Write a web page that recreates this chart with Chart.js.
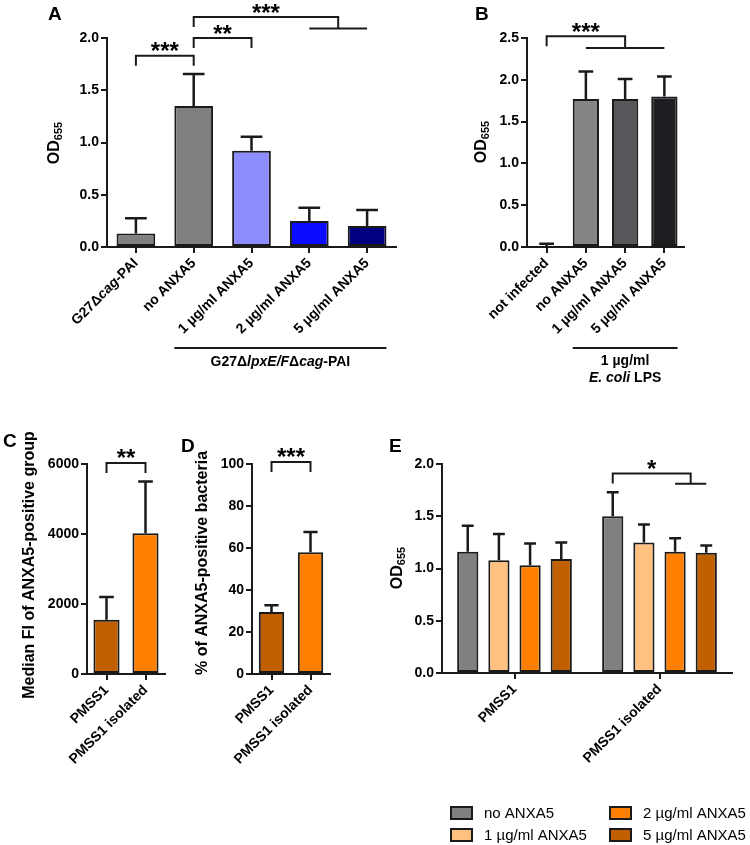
<!DOCTYPE html>
<html>
<head>
<meta charset="utf-8">
<script src="https://cdn.jsdelivr.net/npm/chart.js@4.4.1/dist/chart.umd.min.js"></script>
<style>
body { margin: 0; background: #fff; }
#fig { position: relative; width: 750px; height: 845px; }
#fig canvas { position: absolute; left: 0; top: 0; }
</style>
</head>
<body>
<div id="fig">
  <canvas id="chartA" width="750" height="845"></canvas>
  <canvas id="chartB" width="750" height="845"></canvas>
  <canvas id="chartC" width="750" height="845"></canvas>
  <canvas id="chartD" width="750" height="845"></canvas>
  <canvas id="chartE" width="750" height="845"></canvas>
</div>
<script>
// ---- panel A
const labelsA = ['G27Δcag-PAI', 'no ANXA5', '1 µg/ml ANXA5', '2 µg/ml ANXA5', '5 µg/ml ANXA5']
const valuesA = [0.13, 1.35, 0.92, 0.25, 0.20]
const errorsA = [0.145, 0.305, 0.135, 0.125, 0.155]
const ticksA = [0, 0.5, 1.0, 1.5, 2.0]

// ---- panel B
const labelsB = ['not infected', 'no ANXA5', '1 µg/ml ANXA5', '5 µg/ml ANXA5']
const valuesB = [0.01, 1.77, 1.77, 1.80]
const errorsB = [0.03, 0.33, 0.24, 0.24]
const ticksB = [0, 0.5, 1.0, 1.5, 2.0, 2.5]

// ---- panel C
const labelsC = ['PMSS1', 'PMSS1 isolated']
const valuesC = [1550, 4020]
const errorsC = [650, 1480]
const ticksC = [0, 2000, 4000, 6000]

// ---- panel D
const labelsD = ['PMSS1', 'PMSS1 isolated']
const valuesD = [29.5, 58]
const errorsD = [3.2, 9.6]
const ticksD = [0, 20, 40, 60, 80, 100]

// ---- panel E
const labelsE = ['PMSS1', 'PMSS1 isolated']
const seriesE = ['no ANXA5', '1 µg/ml ANXA5', '2 µg/ml ANXA5', '5 µg/ml ANXA5']
const noAnxaE = [1.16, 1.50]
const noAnxaErrE = [0.25, 0.23]
const anxa1E = [1.08, 1.25]
const anxa1ErrE = [0.25, 0.17]
const anxa2E = [1.03, 1.16]
const anxa2ErrE = [0.21, 0.13]
const anxa5E = [1.09, 1.15]
const anxa5ErrE = [0.16, 0.07]
const ticksE = [0, 0.5, 1.0, 1.5, 2.0]

// colours
const colorsA = ['#808080', '#808080', '#8c8cff', '#0a0aff', '#000080']
const colorsB = ['#ffffff', '#858585', '#58585c', '#1e1e22']
const colorsC = ['#c05f00', '#ff8000']
const colorsE = ['#808080', '#ffc080', '#ff8000', '#c05f00']

const FONT = '"Liberation Sans", Arial, Helvetica, sans-serif'
const INK = '#1a1a1a'

// extra drawing for each panel (letters, titles, brackets, group labels)
const specs = {
    chartA: {
        letter: ['A', 48, 20],
        yTitle: { parts: [['OD', 16], ['655', 11]], x: 55, y: 143 },
        // tick label with italic part, drawn in place of the plain one
        richTick: { index: 0, pieces: [['G27Δ'], ['cag', 1], ['-PAI']] },
        brackets: [
            { from: [0, 0], to: [0, 1], y: 1.83, stars: '***' },
            { from: [0, 1], to: [0, 2], y: 2.0, stars: '**' },
            { from: [0, 1], fork: [[0, 3], [0, 4]], y: 2.2, low: 2.09, stars: '***' }
        ],
        group: {
            from: [0, 1], to: [0, 4], y: 348,
            lines: [[['G27Δ'], ['lpxE/F', 1], ['Δ'], ['cag', 1], ['-PAI']]], textY: 362
        }
    },
    chartB: {
        letter: ['B', 475, 20],
        yTitle: { parts: [['OD', 16], ['655', 11]], x: 482, y: 142 },
        brackets: [
            { from: [0, 0], fork: [[0, 1], [0, 3]], y: 2.52, low: 2.38, stars: '***' }
        ],
        group: {
            from: [0, 1], to: [0, 3], y: 348,
            lines: [[['1 µg/ml']], [['E. coli', 1], [' LPS']]], textY: 361
        }
    },
    chartC: {
        letter: ['C', 3, 447],
        yTitle: { parts: [['Median FI of ANXA5-positive group', 16]], x: 30, y: 565 },
        brackets: [{ from: [0, 0], to: [0, 1], y: 6030, stars: '**' }]
    },
    chartD: {
        letter: ['D', 181, 452],
        yTitle: { parts: [['% of ANXA5-positive bacteria', 16]], x: 203, y: 563 },
        brackets: [{ from: [0, 0], to: [0, 1], y: 101, stars: '***' }]
    },
    chartE: {
        letter: ['E', 389, 452],
        yTitle: { parts: [['OD', 16], ['655', 11]], x: 398, y: 568 },
        brackets: [
            { from: [0, 1], fork: [[2, 1], [3, 1]], y: 1.91, low: 1.81, stars: '*' }
        ],
        legend: { cols: [451, 610], rows: [807, 829] }
    }
}

const barX = (chart, p) => chart.getDatasetMeta(p[0]).data[p[1]].x
const barW = (chart, p) => chart.getDatasetMeta(p[0]).data[p[1]].width

const pieceFont = (p, size) => (p[1] ? 'italic ' : '') + 'bold ' + size + 'px ' + FONT

// draw a row of text pieces [text, italic?]; align 'center' or 'right' on x
const drawPieces = (ctx, pieces, x, y, size, align) => {
    const widths = pieces.map(p => { ctx.font = pieceFont(p, size); return ctx.measureText(p[0]).width })
    const total = widths.reduce((a, b) => a + b, 0)
    let cx = align === 'right' ? x - total : x - total / 2
    ctx.textAlign = 'left'
    pieces.forEach((p, i) => {
        ctx.font = pieceFont(p, size)
        ctx.fillText(p[0], cx, y)
        cx += widths[i]
    })
}

const figPlugin = {
    id: 'fig',
    afterDatasetsDraw(chart) {
        const ctx = chart.ctx
        const ys = chart.scales.y
        ctx.save()
        ctx.strokeStyle = INK
        ctx.lineWidth = 2.5
        chart.data.datasets.forEach((ds, d) => {
            chart.getDatasetMeta(d).data.forEach((bar, i) => {
                const top = ys.getPixelForValue(ds.data[i] + ds.errors[i])
                const cap = bar.width * 0.28
                ctx.beginPath()
                ctx.moveTo(bar.x, bar.y)
                ctx.lineTo(bar.x, top)
                ctx.moveTo(bar.x - cap, top)
                ctx.lineTo(bar.x + cap, top)
                ctx.stroke()
            })
        })
        ctx.restore()
    },
    afterDraw(chart) {
        const spec = specs[chart.canvas.id]
        const ctx = chart.ctx
        const ys = chart.scales.y
        ctx.save()
        ctx.fillStyle = '#000'
        ctx.strokeStyle = INK

        // panel letter
        ctx.font = 'bold 19px ' + FONT
        ctx.textAlign = 'left'
        ctx.textBaseline = 'alphabetic'
        ctx.fillText(spec.letter[0], spec.letter[1], spec.letter[2])

        // y title, rotated, with optional subscript
        const t = spec.yTitle
        ctx.save()
        ctx.translate(t.x, t.y)
        ctx.rotate(-Math.PI / 2)
        const ws = t.parts.map(p => { ctx.font = 'bold ' + p[1] + 'px ' + FONT; return ctx.measureText(p[0]).width })
        let tx = -ws.reduce((a, b) => a + b, 0) / 2
        ctx.textBaseline = 'middle'
        t.parts.forEach((p, i) => {
            ctx.font = 'bold ' + p[1] + 'px ' + FONT
            ctx.fillText(p[0], tx, i === 0 ? 0 : 4)
            tx += ws[i]
        })
        ctx.restore()

        // x tick label with italic part, placed where the scale put its label
        const rt = spec.richTick
        if (rt) {
            const item = chart.scales.x.getLabelItems()[rt.index]
            const o = item.options
            ctx.save()
            ctx.translate(o.translation[0], o.translation[1])
            ctx.rotate(o.rotation)
            ctx.textBaseline = o.textBaseline
            drawPieces(ctx, rt.pieces, 0, item.textOffset, 14, o.textAlign)
            ctx.restore()
        }

        // significance brackets
        ctx.lineWidth = 2
        const drop = 10
        spec.brackets.forEach(b => {
            const y0 = ys.getPixelForValue(b.y)
            const xl = barX(chart, b.from)
            let xr
            ctx.beginPath()
            ctx.moveTo(xl, y0 + drop)
            ctx.lineTo(xl, y0)
            if (b.fork) {
                const a = barX(chart, b.fork[0])
                const c = barX(chart, b.fork[1])
                const yl = ys.getPixelForValue(b.low)
                xr = (a + c) / 2
                ctx.lineTo(xr, y0)
                ctx.lineTo(xr, yl)
                ctx.moveTo(a, yl)
                ctx.lineTo(c, yl)
            } else {
                xr = barX(chart, b.to)
                ctx.lineTo(xr, y0)
                ctx.lineTo(xr, y0 + drop)
            }
            ctx.stroke()
            ctx.font = 'bold 24px ' + FONT
            ctx.textAlign = 'center'
            ctx.textBaseline = 'alphabetic'
            const m = ctx.measureText(b.stars)
            const cy = y0 - 9
            ctx.fillText(b.stars, (xl + xr) / 2, cy + (m.actualBoundingBoxAscent - m.actualBoundingBoxDescent) / 2)
        })

        // group label under the x axis
        const g = spec.group
        if (g) {
            const x1 = barX(chart, g.from) - barW(chart, g.from) / 2
            const x2 = barX(chart, g.to) + barW(chart, g.to) / 2
            ctx.lineWidth = 2
            ctx.beginPath()
            ctx.moveTo(x1, g.y)
            ctx.lineTo(x2, g.y)
            ctx.stroke()
            ctx.textBaseline = 'middle'
            g.lines.forEach((ln, k) => drawPieces(ctx, ln, (x1 + x2) / 2, g.textY + k * 17, 14, 'center'))
        }

        // legend (panel E)
        const lg = spec.legend
        if (lg) {
            chart.data.datasets.forEach((ds, d) => {
                const bx = lg.cols[Math.floor(d / 2)]
                const by = lg.rows[d % 2]
                ctx.fillStyle = ds.backgroundColor
                ctx.fillRect(bx, by, 21, 12)
                ctx.lineWidth = 2
                ctx.strokeRect(bx, by, 21, 12)
                ctx.fillStyle = '#000'
                ctx.font = '15px ' + FONT
                ctx.textAlign = 'left'
                ctx.textBaseline = 'middle'
                ctx.fillText(ds.label, bx + 33, by + 6.5)
            })
        }
        ctx.restore()
    }
}

const Y_W = 60
const X_H = 110

const barChart = (id, area, labels, datasets, ticks, fmt, catPct) => {
    const tickFont = { family: FONT, size: 14, weight: 'bold' }
    const rich = specs[id].richTick
    return new Chart(document.getElementById(id), {
        type: 'bar',
        data: { labels, datasets },
        options: {
            responsive: false,
            animation: false,
            devicePixelRatio: 1,
            layout: {
                padding: {
                    left: area[0] - Y_W,
                    top: area[1],
                    right: 750 - area[2],
                    bottom: 845 - area[3] - X_H
                }
            },
            datasets: { bar: { categoryPercentage: catPct } },
            plugins: { legend: { display: false }, tooltip: { enabled: false } },
            scales: {
                x: {
                    grid: { drawOnChartArea: false, offset: false, tickLength: 6, color: INK, lineWidth: 2 },
                    border: { color: INK, width: 2 },
                    ticks: {
                        color: '#000', font: tickFont, minRotation: 45, maxRotation: 45, autoSkip: false, padding: 2,
                        callback: (v, i) => (rich && i === rich.index) ? ' ' : labels[i]
                    },
                    afterFit: s => { s.height = X_H }
                },
                y: {
                    min: ticks[0],
                    max: ticks[ticks.length - 1],
                    grid: { drawOnChartArea: false, tickLength: 6, color: INK, lineWidth: 2 },
                    border: { color: INK, width: 2 },
                    ticks: { color: '#000', font: tickFont, padding: 2, callback: fmt },
                    afterBuildTicks: s => { s.ticks = ticks.map(v => ({ value: v })) },
                    afterFit: s => { s.width = Y_W }
                }
            }
        },
        plugins: [figPlugin]
    })
}

const oneDec = v => v.toFixed(1)
const plain = v => String(v)
const single = (data, errors, colors, pct) => [{
    data, errors,
    backgroundColor: colors,
    borderColor: INK,
    borderWidth: 2,
    borderSkipped: false,
    barPercentage: pct
}]

barChart('chartA', [107, 38, 396, 247], labelsA, single(valuesA, errorsA, colorsA, 0.67), ticksA, oneDec, 1)
barChart('chartB', [527, 38, 684, 247], labelsB, single(valuesB, errorsB, colorsB, 0.67), ticksB, oneDec, 1)
barChart('chartC', [87, 464, 165, 674], labelsC, single(valuesC, errorsC, colorsC, 0.67), ticksC, plain, 1)
barChart('chartD', [252, 464, 330, 674], labelsD, single(valuesD, errorsD, colorsC, 0.65), ticksD, plain, 1)

const valsE = [noAnxaE, anxa1E, anxa2E, anxa5E]
const errsE = [noAnxaErrE, anxa1ErrE, anxa2ErrE, anxa5ErrE]
const datasetsE = seriesE.map((name, k) => ({
    label: name,
    data: valsE[k],
    errors: errsE[k],
    backgroundColor: colorsE[k],
    borderColor: INK,
    borderWidth: 2,
    borderSkipped: false,
    barPercentage: 0.68
}))
barChart('chartE', [442, 464, 732, 673], labelsE, datasetsE, ticksE, oneDec, 0.86)
</script>
</body>
</html>
